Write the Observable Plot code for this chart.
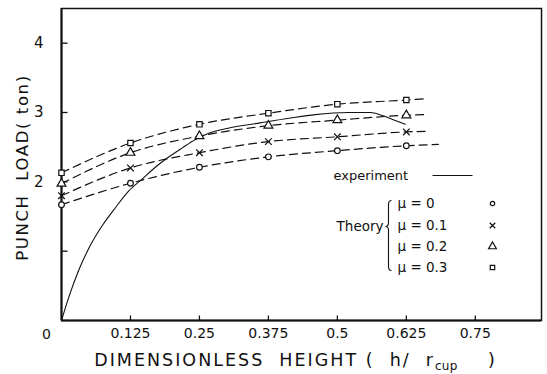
<!DOCTYPE html>
<html><head><meta charset="utf-8">
<script src="https://cdn.jsdelivr.net/npm/d3@7"></script>
<script src="https://cdn.jsdelivr.net/npm/@observablehq/plot@0.6"></script>
<style>
body{margin:0;background:#fff}
svg{font-family:"DejaVu Sans",sans-serif}
</style>
</head><body><div id="chart"></div>
<script>
// Theory (dashed) curves: marker positions
const theoryX = [0, 0.125, 0.25, 0.375, 0.5, 0.625];
const mu00 = [1.67, 1.98, 2.21, 2.36, 2.45, 2.52];
const mu01 = [1.80, 2.20, 2.42, 2.58, 2.65, 2.72];
const mu02 = [1.975, 2.42, 2.66, 2.81, 2.89, 2.96];
const mu03 = [2.13, 2.56, 2.83, 2.99, 3.12, 3.18];
// where each dashed line ends (no marker)
const theoryEndX = [0.683, 0.666, 0.662, 0.662];
const theoryEndY = [2.54, 2.73, 2.97, 3.20];
const seriesNames = ["μ = 0", "μ = 0.1", "μ = 0.2", "μ = 0.3"];
const seriesSymbols = ["circle", "times", "triangle", "square"];

// Experiment (solid) curve
const expX = [0, 0.013, 0.031, 0.05, 0.074, 0.098, 0.122, 0.146, 0.17, 0.191, 0.219, 0.243, 0.267, 0.30, 0.36, 0.415, 0.46, 0.52, 0.56, 0.58, 0.60, 0.623];
const expY = [0, 0.33, 0.72, 1.05, 1.37, 1.63, 1.87, 2.04, 2.21, 2.34, 2.49, 2.61, 2.70, 2.77, 2.85, 2.92, 2.97, 3.0, 3.0, 2.96, 2.90, 2.83];

const xTicks = [0.125, 0.25, 0.375, 0.5, 0.625, 0.75];
const xTickLabels = ["0.125", "0.25", "0.375", "0.5", "0.625", "0.75"];
const xZeroLabel = ["0"];
const yTicks = [1, 2, 3, 4];
const yLabelTicks = [2, 3, 4];
const yTickLabels = ["2", "3", "4"];
const yTitle = "PUNCH  LOAD( ton)";
const xTitle = "DIMENSIONLESS  HEIGHT (  h/  r";
const xTitleSub = "cup";
const xTitleEnd = "    )";
const legendExperiment = "experiment";
const legendTheory = "Theory";

const ink = "#111";
const allY = [mu00, mu01, mu02, mu03];
const theoryPoints = [];
const theoryLines = [];
allY.forEach((ys, s) => {
  theoryX.forEach((x, i) => {
    theoryPoints.push({x, y: ys[i], s});
    theoryLines.push({x, y: ys[i], s});
  });
  theoryLines.push({x: theoryEndX[s], y: theoryEndY[s], s});
});
const expData = expX.map((x, i) => ({x, y: expY[i]}));

const lineSymbol = {draw(ctx) { ctx.moveTo(-20, 0); ctx.lineTo(20, 0); }};
const vTick = {draw(ctx) { ctx.moveTo(0, 0); ctx.lineTo(0, -5); }};
const hTick = {draw(ctx) { ctx.moveTo(0, 0); ctx.lineTo(6, 0); }};
const braceSymbol = {draw(ctx) {
  ctx.moveTo(3, -35); ctx.quadraticCurveTo(0, -35, 0, -31);
  ctx.lineTo(0, -13); ctx.quadraticCurveTo(0, -9, -3, -9);
  ctx.quadraticCurveTo(0, -9, 0, -5);
  ctx.lineTo(0, 31); ctx.quadraticCurveTo(0, 35, 3, 35);
}};
const symbolR = {circle: 2.2, times: 2.6, triangle: 2.9, square: 2.5};

const rowDy = [195, 217, 238, 259];
const legendMarks = [];
seriesNames.forEach((name, i) => {
  legendMarks.push(Plot.text([name], {frameAnchor: "top-left", dx: 336, dy: rowDy[i], text: d => d, textAnchor: "start", lineAnchor: "middle", fontSize: 13.5, fill: ink}));
  legendMarks.push(Plot.dot([name], {frameAnchor: "top-left", dx: 431, dy: rowDy[i], symbol: seriesSymbols[i], r: symbolR[seriesSymbols[i]], stroke: ink, strokeWidth: 1.2, fill: "white"}));
});

const chart = Plot.plot({
  width: 547, height: 374,
  marginLeft: 61, marginRight: 6, marginTop: 8, marginBottom: 54,
  x: {domain: [0, 0.87]},
  y: {domain: [0, 4.5]},
  style: {fontFamily: "DejaVu Sans, sans-serif", color: ink, background: "white"},
  marks: [
    Plot.frame({stroke: ink, strokeWidth: 1.5}),
    Plot.ruleX([0], {stroke: ink, strokeWidth: 2}),
    Plot.ruleY([0], {stroke: ink, strokeWidth: 2}),
    Plot.dot(xTicks, {x: d => d, frameAnchor: "bottom", symbol: vTick, stroke: ink, strokeWidth: 1.3, fill: "none"}),
    Plot.dot(yTicks, {y: d => d, frameAnchor: "left", symbol: hTick, stroke: ink, strokeWidth: 1.3, fill: "none"}),
    Plot.axisX({ticks: xTicks, tickSize: 0, tickPadding: 8, tickFormat: (d, i) => xTickLabels[i], label: null, fontSize: 14, fill: ink}),
    Plot.axisY({ticks: yLabelTicks, tickSize: 0, tickPadding: 18, tickFormat: (d, i) => yTickLabels[i], label: null, fontSize: 15, fill: ink}),
    Plot.text(xZeroLabel, {x: () => 0, frameAnchor: "bottom", lineAnchor: "middle", dy: 14, dx: -15, text: d => d, fontSize: 14, fill: ink}),
    Plot.text([yTitle], {frameAnchor: "left", textAnchor: "middle", lineAnchor: "middle", dx: -39, dy: 3, rotate: -90, text: d => d, fontSize: 16.5, fill: ink}),
    Plot.text([xTitle], {frameAnchor: "bottom", textAnchor: "middle", lineAnchor: "middle", dx: -6, dy: 40, text: d => d, fontSize: 17.5, fill: ink}),
    Plot.line(theoryLines, {x: "x", y: "y", z: "s", curve: "monotone-x", stroke: ink, strokeWidth: 1.2, strokeDasharray: "8,5"}),
    Plot.line(expData, {x: "x", y: "y", curve: "monotone-x", stroke: ink, strokeWidth: 1.1}),
    Plot.dot(theoryPoints, {x: "x", y: "y", symbol: d => seriesSymbols[d.s], r: d => symbolR[seriesSymbols[d.s]], stroke: ink, strokeWidth: 1.2, fill: "white"}),
    Plot.text([legendExperiment], {frameAnchor: "top-left", dx: 272, dy: 167, text: d => d, textAnchor: "start", lineAnchor: "middle", fontSize: 13, fill: ink}),
    Plot.dot([legendExperiment], {frameAnchor: "top-left", dx: 391, dy: 167, symbol: lineSymbol, stroke: ink, strokeWidth: 1.2, fill: "none"}),
    Plot.text([legendTheory], {frameAnchor: "top-left", dx: 322, dy: 218, text: d => d, textAnchor: "end", lineAnchor: "middle", fontSize: 13.5, fill: ink}),
    Plot.dot([legendTheory], {frameAnchor: "top-left", dx: 327, dy: 227, symbol: braceSymbol, stroke: ink, strokeWidth: 1.1, fill: "none"}),
    ...legendMarks
  ]
});
// subscript in x title, preserved spacing in titles
d3.select(chart).selectAll("text").each(function() {
  if (this.textContent === xTitle) {
    const t = d3.select(this);
    t.attr("xml:space", "preserve").style("white-space", "pre").style("letter-spacing", "2px");
    t.text(null);
    t.append("tspan").text(xTitle);
    t.append("tspan").attr("font-size", 12).attr("dy", 4).style("letter-spacing", "0.3px").text(xTitleSub);
    t.append("tspan").attr("dy", -4).text(xTitleEnd);
  }
  if (this.textContent === yTitle) {
    d3.select(this).attr("xml:space", "preserve").style("white-space", "pre").style("letter-spacing", "1.6px");
  }
});
document.getElementById("chart").appendChild(chart);
</script>
</body></html>
